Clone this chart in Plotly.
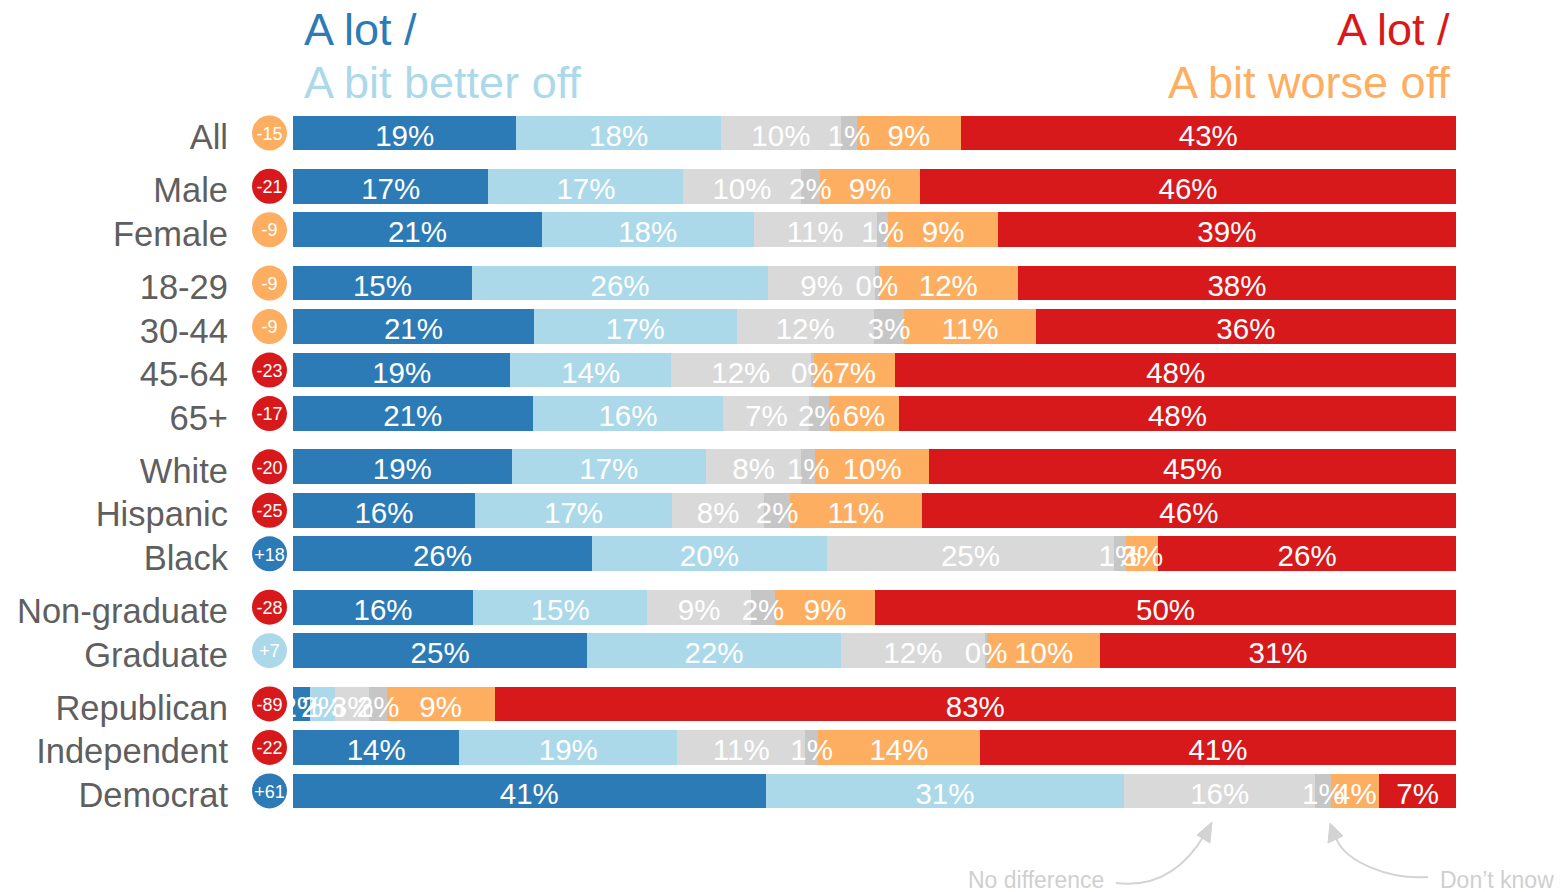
import plotly.graph_objects as go

W, H = 1560, 892

groups = [
    ["All"],
    ["Male", "Female"],
    ["18-29", "30-44", "45-64", "65+"],
    ["White", "Hispanic", "Black"],
    ["Non-graduate", "Graduate"],
    ["Republican", "Independent", "Democrat"],
]

series_names = ["A lot better off", "A bit better off", "No difference",
                "Don't know", "A bit worse off", "A lot worse off"]
series_colors = ["#2c7bb6", "#abd9e9", "#d9d9d9", "#c6c6c6", "#fdae61", "#d7191c"]

lot_better = [19.2, 16.85, 21.4, 15.4, 20.7, 18.7, 20.6, 18.8, 15.6, 25.7, 15.5, 25.3, 1.5, 14.3, 40.6]
bit_better = [17.6, 16.8, 18.2, 25.5, 17.4, 13.8, 16.4, 16.7, 16.9, 20.2, 15.0, 21.8, 2.1, 18.7, 30.8]
no_diff    = [10.3, 10.1, 10.6, 9.2, 11.8, 12.0, 7.4, 8.2, 7.9, 24.7, 8.9, 12.4, 3.0, 11.0, 16.4]
dont_know  = [1.4, 1.7, 1.0, 0.3, 2.6, 0.3, 1.7, 1.2, 2.2, 1.0, 2.1, 0.2, 1.5, 1.1, 1.4]
bit_worse  = [8.9, 8.6, 9.4, 12.0, 11.3, 7.0, 6.0, 9.8, 11.3, 2.8, 8.6, 9.7, 9.3, 13.9, 4.1]
lot_worse  = [42.6, 46.2, 39.4, 37.7, 36.1, 48.2, 47.9, 45.3, 45.8, 25.6, 50.0, 30.6, 83.0, 40.9, 6.6]

nets = [-15, -21, -9, -9, -9, -23, -17, -20, -25, 18, -28, 7, -89, -22, 61]

series = [lot_better, bit_better, no_diff, dont_know, bit_worse, lot_worse]

# y positions: one unit per row plus a small gap between groups
GAP = 0.225
categories, ypos = [], []
idx = 0
for g, grp in enumerate(groups):
    for c in grp:
        categories.append(c)
        ypos.append(idx + g * GAP)
        idx += 1
ymax = ypos[-1] + 0.5

# normalise each row to 100%
totals = [sum(s[i] for s in series) for i in range(len(categories))]
shares = [[s[i] / totals[i] * 100 for i in range(len(categories))] for s in series]


def net_color(n):
    if n > 15:
        return "#2c7bb6"
    if n > 0:
        return "#abd9e9"
    if n >= -15:
        return "#fdae61"
    return "#d7191c"


FONT = "Liberation Sans, Arial, sans-serif"
TEXT_DROP = 0.12    # text sits slightly below bar centre
LABEL_DROP = 0.17

fig = go.Figure()
for name, vals, col in zip(series_names, shares, series_colors):
    fig.add_trace(go.Bar(
        y=ypos, x=vals, name=name, orientation="h",
        marker=dict(color=col, line=dict(width=0)),
        width=0.8, textposition="none",
        xaxis="x", yaxis="y", showlegend=False, hoverinfo="skip",
    ))

# segment labels drawn on top of all bars
lab_x, lab_y, lab_t = [], [], []
cum = [0.0] * len(categories)
for raw, sh in zip(series, shares):
    for i in range(len(categories)):
        lab_x.append(cum[i] + sh[i] / 2)
        lab_y.append(ypos[i] + TEXT_DROP)
        lab_t.append(f"{int(raw[i] + 0.5)}%")
        cum[i] += sh[i]
fig.add_trace(go.Scatter(
    x=lab_x, y=lab_y, mode="text", text=lab_t, textposition="middle center",
    textfont=dict(size=29.5, color="white", family=FONT), cliponaxis=False,
    xaxis="x", yaxis="y", showlegend=False, hoverinfo="skip",
))

# category labels
fig.add_trace(go.Scatter(
    x=[228] * len(categories), y=[y + LABEL_DROP for y in ypos], mode="text",
    text=categories, textposition="middle left", cliponaxis=False,
    textfont=dict(size=34.5, color="#5f5f5f", family=FONT),
    xaxis="x2", yaxis="y", showlegend=False, hoverinfo="skip",
))

# net circles
fig.add_trace(go.Scatter(
    x=[269.5] * len(nets), y=ypos, mode="markers",
    marker=dict(size=35, color=[net_color(n) for n in nets], line=dict(width=0)),
    cliponaxis=False,
    xaxis="x2", yaxis="y", showlegend=False, hoverinfo="skip",
))
fig.add_trace(go.Scatter(
    x=[269.5] * len(nets), y=[y + 0.05 for y in ypos], mode="text",
    text=[f"{n:+d}" for n in nets],
    textposition="middle center", cliponaxis=False,
    textfont=dict(size=18, color="white", family=FONT),
    xaxis="x2", yaxis="y", showlegend=False, hoverinfo="skip",
))

y_top_px = 133 - 43.5 * 0.5
y_bot_px = y_top_px + (ymax + 0.5) * 43.5

fig.update_layout(
    width=W, height=H,
    margin=dict(l=0, r=0, t=0, b=0),
    paper_bgcolor="white", plot_bgcolor="white",
    barmode="stack",
    xaxis=dict(domain=[293 / W, 1456 / W], range=[0, 100], visible=False,
               fixedrange=True, anchor="y"),
    xaxis2=dict(domain=[0, 293 / W], range=[0, 293], visible=False, anchor="y"),
    yaxis=dict(domain=[1 - y_bot_px / H, 1 - y_top_px / H],
               range=[ymax, -0.5], visible=False, anchor="x"),
    font=dict(family=FONT),
)


def px(x, y):
    return f"{x / W:.5f},{1 - y / H:.5f}"


anns = [
    dict(text="A lot /", x=302 / W, y=1 - 30 / H, xanchor="left", yanchor="middle",
         font=dict(size=45, color="#2c7bb6")),
    dict(text="A bit better off", x=302 / W, y=1 - 82 / H, xanchor="left", yanchor="middle",
         font=dict(size=45, color="#abd9e9")),
    dict(text="A lot /", x=1452 / W, y=1 - 30 / H, xanchor="right", yanchor="middle",
         font=dict(size=45, color="#d7191c")),
    dict(text="A bit worse off", x=1452 / W, y=1 - 82 / H, xanchor="right", yanchor="middle",
         font=dict(size=45, color="#fdae61")),
    dict(text="No difference", x=1106 / W, y=1 - 880 / H, xanchor="right", yanchor="middle",
         font=dict(size=23, color="#cfcfcf")),
    dict(text="Don\u2019t know", x=1556 / W, y=1 - 880 / H, xanchor="right", yanchor="middle",
         font=dict(size=23, color="#cfcfcf")),
]
for a in anns:
    a.update(xref="paper", yref="paper", showarrow=False)
    a["font"]["family"] = FONT
fig.update_layout(annotations=anns)

arrow_col = "#d3d3d3"
shapes = [
    dict(type="path", path=f"M {px(1116, 883)} Q {px(1172, 890)} {px(1205, 834)}",
         line=dict(color=arrow_col, width=2)),
    dict(type="path", path=f"M {px(1212, 822)} L {px(1197, 835)} L {px(1210, 843)} Z",
         fillcolor=arrow_col, line=dict(color=arrow_col, width=1)),
    dict(type="path", path=f"M {px(1428, 877)} C {px(1390, 880)} {px(1345, 862)} {px(1336, 838)}",
         line=dict(color=arrow_col, width=2)),
    dict(type="path", path=f"M {px(1330, 823)} L {px(1328, 843)} L {px(1343, 836)} Z",
         fillcolor=arrow_col, line=dict(color=arrow_col, width=1)),
]
for s in shapes:
    s.update(xref="paper", yref="paper")
fig.update_layout(shapes=shapes)

fig.write_html("out.html", config={"displayModeBar": False},
               post_script="document.body.style.margin='0';")
